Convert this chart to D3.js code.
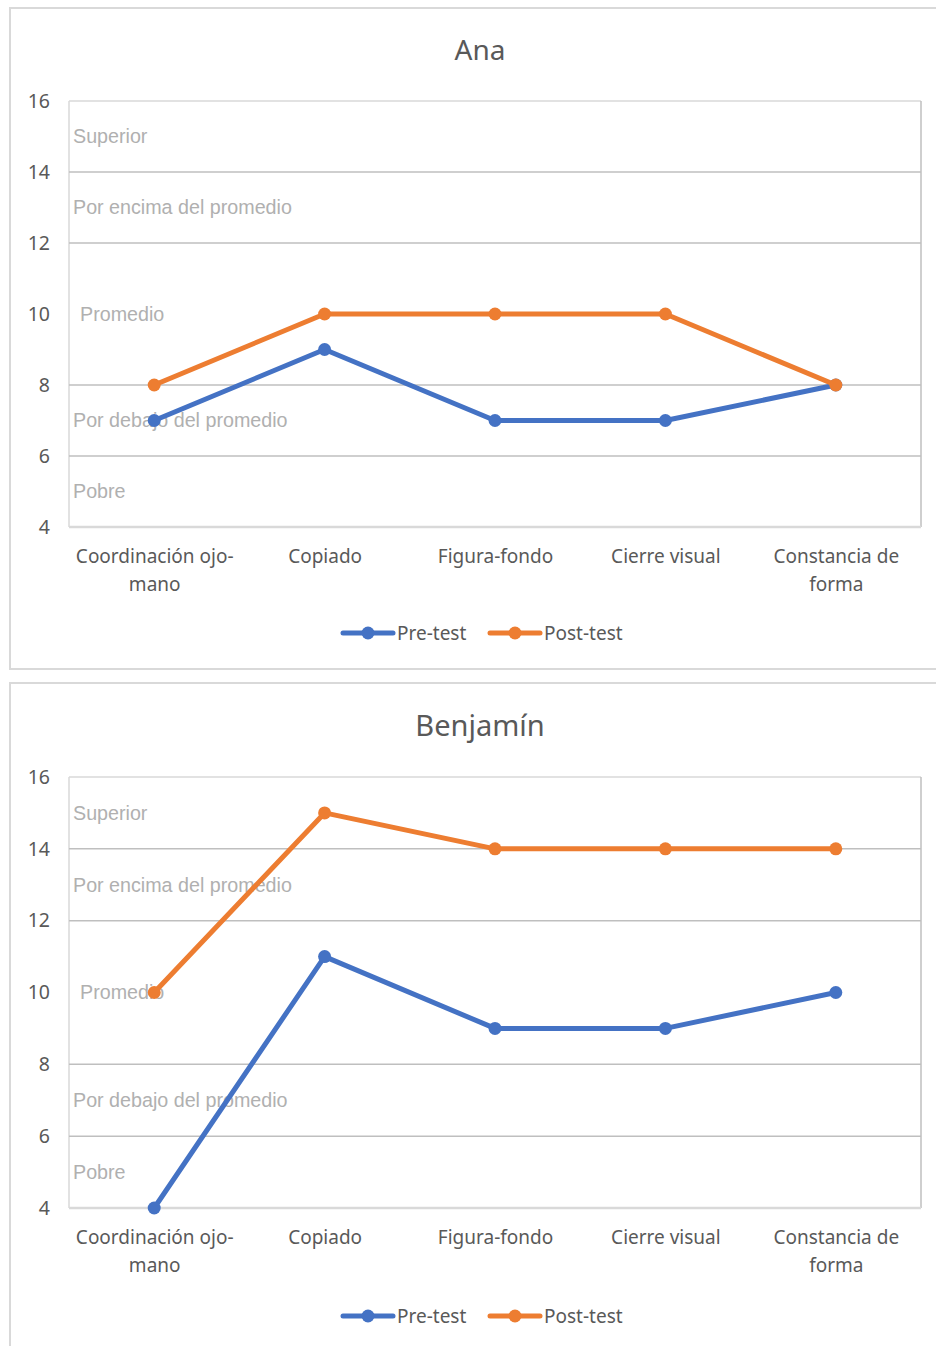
<!DOCTYPE html>
<html>
<head>
<meta charset="utf-8">
<script src="https://cdn.jsdelivr.net/npm/d3@7"></script>
<style>
  html, body { margin: 0; padding: 0; background: #fff; }
  svg { display: block; }
</style>
</head>
<body>
<svg id="chart" width="936" height="1346"></svg>
<script>
// ---------------- DATA ----------------
const categories = ["Coordinación ojo-mano", "Copiado", "Figura-fondo", "Cierre visual", "Constancia de forma"];
const xTickLabels = [["Coordinación ojo-", "mano"], ["Copiado"], ["Figura-fondo"], ["Cierre visual"], ["Constancia de", "forma"]];
const yTicks = [4, 6, 8, 10, 12, 14, 16];
const seriesNames = ["Pre-test", "Post-test"];
const anaPre = [7, 9, 7, 7, 8];
const anaPost = [8, 10, 10, 10, 8];
const benjaminPre = [4, 11, 9, 9, 10];
const benjaminPost = [10, 15, 14, 14, 14];
const bandNames = ["Pobre", "Por debajo del promedio", "Promedio", "Por encima del promedio", "Superior"];
const bandLower = [4, 6, 8, 12, 14];
const bandUpper = [6, 8, 12, 14, 16];
const gridValues = [6, 8, 12, 14];

// ---------------- STYLE ----------------
const colors = ["#4472C4", "#ED7D31"];
const axisFont = "'Noto Sans', 'Open Sans', sans-serif";
const bandFont = "'Liberation Sans', Arial, sans-serif";
const textColor = "#595959";

const svg = d3.select("#chart");

function drawChart(cfg) {
  const g = svg.append("g");
  // outer frame
  g.append("rect")
    .attr("x", cfg.frame[0]).attr("y", cfg.frame[1])
    .attr("width", cfg.frame[2]).attr("height", cfg.frame[3])
    .attr("fill", "#fff").attr("stroke", "#d9d9d9").attr("stroke-width", 2);

  const x = d3.scalePoint().domain(categories).range([cfg.left, cfg.right]).padding(0.5);
  const y = d3.scaleLinear().domain([4, 16]).range([cfg.bottom, cfg.top]);

  // title
  g.append("text").attr("x", 480).attr("y", cfg.titleY)
    .attr("text-anchor", "middle")
    .attr("font-family", axisFont).attr("font-size", cfg.titleSize)
    .attr("fill", textColor).text(cfg.title);

  // plot border
  g.append("line").attr("x1", cfg.left).attr("x2", cfg.right).attr("y1", y(16)).attr("y2", y(16))
    .attr("stroke", "#d9d9d9").attr("stroke-width", 1.5);
  g.append("line").attr("x1", cfg.left).attr("x2", cfg.left).attr("y1", y(16)).attr("y2", y(4))
    .attr("stroke", "#d9d9d9").attr("stroke-width", 1.5);
  g.append("line").attr("x1", cfg.right).attr("x2", cfg.right).attr("y1", y(16)).attr("y2", y(4))
    .attr("stroke", "#bfbfbf").attr("stroke-width", 1.5);

  // grid lines at band boundaries
  g.selectAll(".grid").data(gridValues).enter().append("line")
    .attr("x1", cfg.left).attr("x2", cfg.right)
    .attr("y1", d => y(d)).attr("y2", d => y(d))
    .attr("stroke", "#bfbfbf").attr("stroke-width", 1.5);

  g.append("line").attr("x1", cfg.left).attr("x2", cfg.right).attr("y1", y(4)).attr("y2", y(4))
    .attr("stroke", "#d9d9d9").attr("stroke-width", 2.5);

  // band labels
  g.selectAll(".band").data(bandNames).enter().append("text")
    .attr("x", (d, i) => d === "Promedio" ? cfg.left + 11 : cfg.left + 4)
    .attr("y", (d, i) => y((bandLower[i] + bandUpper[i]) / 2))
    .attr("dy", "0.35em")
    .attr("font-family", bandFont).attr("font-size", 19.7)
    .attr("fill", "#b0b0b0").text(d => d);

  // y axis
  const yAxis = d3.axisLeft(y).tickValues(yTicks).tickSize(0).tickPadding(0).tickFormat(d3.format("d"));
  const ya = g.append("g").attr("transform", `translate(${cfg.left - 19},0)`).call(yAxis);
  ya.select(".domain").remove();
  ya.selectAll("text").attr("font-family", axisFont).attr("font-size", 19.5).attr("fill", textColor);

  // x axis labels
  const xAxis = d3.axisBottom(x).tickSize(0).tickFormat("");
  const xa = g.append("g").attr("transform", `translate(0,${y(4)})`).call(xAxis);
  xa.select(".domain").remove();
  xa.selectAll(".tick").each(function (d, i) {
    const t = d3.select(this).append("text")
      .attr("text-anchor", "middle")
      .attr("font-family", axisFont).attr("font-size", 19)
      .attr("fill", textColor);
    xTickLabels[i].forEach((line, k) => {
      t.append("tspan").attr("x", 0).attr("y", 36 + k * 28).text(line);
    });
  });

  // series
  const series = [cfg.pre, cfg.post];
  const line = d3.line().x((d, i) => x(categories[i])).y(d => y(d));
  series.forEach((vals, s) => {
    g.append("path").datum(vals)
      .attr("d", line).attr("fill", "none")
      .attr("stroke", colors[s]).attr("stroke-width", 5)
      .attr("stroke-linejoin", "round").attr("stroke-linecap", "round");
    g.selectAll(".pt" + s).data(vals).enter().append("circle")
      .attr("cx", (d, i) => x(categories[i])).attr("cy", d => y(d))
      .attr("r", 6.5).attr("fill", colors[s]);
  });

  // legend
  const legendX = [343, 490];
  seriesNames.forEach((name, s) => {
    const lg = g.append("g").attr("transform", `translate(${legendX[s]},${cfg.legendY})`);
    lg.append("line").attr("x1", 0).attr("x2", 50).attr("y1", 0).attr("y2", 0)
      .attr("stroke", colors[s]).attr("stroke-width", 5).attr("stroke-linecap", "round");
    lg.append("circle").attr("cx", 25).attr("cy", 0).attr("r", 6.5).attr("fill", colors[s]);
    lg.append("text").attr("x", 54).attr("y", 0).attr("dy", "0.35em")
      .attr("font-family", axisFont).attr("font-size", 19)
      .attr("fill", textColor).text(name);
  });
}

drawChart({
  title: "Ana", titleY: 60, titleSize: 28,
  frame: [10, 8, 940, 661],
  left: 69, right: 921, top: 101, bottom: 527,
  legendY: 633,
  pre: anaPre, post: anaPost
});

drawChart({
  title: "Benjamín", titleY: 736, titleSize: 29,
  frame: [10, 683, 940, 680],
  left: 69, right: 921, top: 777, bottom: 1208,
  legendY: 1316,
  pre: benjaminPre, post: benjaminPost
});
</script>
</body>
</html>
